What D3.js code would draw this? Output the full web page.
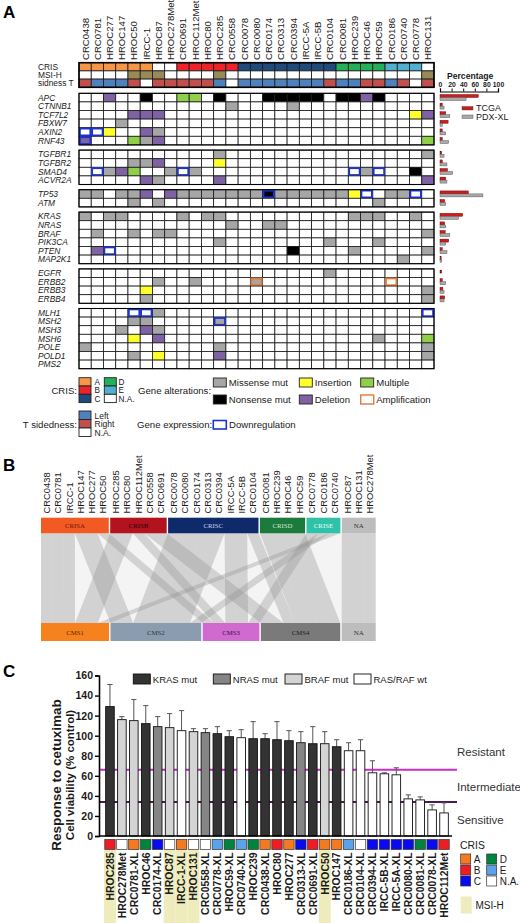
<!DOCTYPE html>
<html>
<head>
<meta charset="utf-8">
<script src="https://cdn.jsdelivr.net/npm/d3@7"></script>
<style>
body { margin: 0; background: #fff; }
svg { display: block; font-family: "Liberation Sans", Arial, sans-serif; }
</style>
</head>
<body>
<svg id="fig" width="520" height="923"></svg>
<script>
// ---------- panel A data ----------
const samplesA = ["CRC0438","CRC0781","HROC277","HROC147","HROC50","IRCC-1","HROC87","HROC278Met",
  "CRC0691","HROC112Met","HROC80","HROC285","CRC0558","CRC0078","CRC0080","CRC0174","CRC0313",
  "CRC0394","IRCC-5A","IRCC-5B","CRC0104","CRC0081","HROC239","HROC46","HROC59","CRC0186",
  "CRC0740","CRC0778","HROC131"];
const crisA = ["A","A","A","A","A","A","N","N","B","B","B","B","B","C","C","C","C","C","C","C","C",
  "D","D","D","D","E","E","E","N"];
const msiA = [0,0,0,0,1,1,1,0,0,0,0,1,0,0,0,0,0,0,0,0,0,0,0,0,0,0,0,0,1];
const sideA = ["R","L","L","L","R","N","R","R","R","R","R","L","N","L","L","L","L","L","L","L","R",
  "L","L","R","R","L","R","N","R"];

const geneGroups = [
  ["APC","CTNNB1","TCF7L2","FBXW7","AXIN2","RNF43"],
  ["TGFBR1","TGFBR2","SMAD4","ACVR2A"],
  ["TP53","ATM"],
  ["KRAS","NRAS","BRAF","PIK3CA","PTEN","MAP2K1"],
  ["EGFR","ERBB2","ERBB3","ERBB4"],
  ["MLH1","MSH2","MSH3","MSH6","POLE","POLD1","PMS2"]
];
// column index + code: M missense, N nonsense, I insertion, D deletion, X multiple,
// A amplification (outline), R downregulation (outline)
const alterations = {
  APC: "2D 5N 8X 9X 11N 15N 16N 17N 18N 19N 21N 22N 23D 24N",
  CTNNB1: "12M 17M",
  TCF7L2: "4D 5D 6D 27I 28D",
  FBXW7: "3M",
  AXIN2: "0R 1R 2I 5D 6M",
  RNF43: "0DR 4X 5M 6D 28X",
  TGFBR1: "11M 28M",
  TGFBR2: "4M 5M 6D 11I",
  SMAD4: "1R 2M 3D 4X 7M 8R 9M 22R 23M 24R 27N",
  ACVR2A: "5D 6M 11D 28D",
  TP53: "0M 1M 3M 4M 5D 7D 8M 9M 10M 11M 12M 13M 14M 15NR 16M 17M 18M 19M 20M 21M 22I 23R 25M 26M 27R",
  ATM: "4M 6M 24M",
  KRAS: "0M 2M 3M 8M 10M 11M 22M 23M 24M 27M",
  NRAS: "12M 15M 16M",
  BRAF: "1M 4M 6M 7M 28M",
  PIK3CA: "11M 20M 24M",
  PTEN: "1D 2R 17N 22M 28M",
  MAP2K1: "26M",
  EGFR: "20M",
  ERBB2: "6M 9M 14MA 25A",
  ERBB3: "5I 28M",
  ERBB4: "5M 28M",
  MLH1: "4R 5R 6M 28R",
  MSH2: "4M 5M 11MR",
  MSH3: "3M 5D 6M",
  MSH6: "4I 6D 24M 28X",
  POLE: "0M 11M 28M",
  POLD1: "4M 6I 11D 28M",
  PMS2: ""
};
const pctGenes = ["APC","CTNNB1","TCF7L2","FBXW7","AXIN2","RNF43","TGFBR1","TGFBR2","SMAD4","ACVR2A",
  "TP53","ATM","KRAS","NRAS","BRAF","PIK3CA","PTEN","MAP2K1","EGFR","ERBB2","ERBB3","ERBB4"];
const pctTCGA = [66,4,10,14,4,4,3,4,13,10,49,8,39,8,9,15,4,2,3,4,5,8];
const pctPDX  = [45,7,17,4,10,15,7,12,22,12,74,10,32,10,17,10,12,3,0,10,7,7];

// ---------- panel B data ----------
const crisGroupsB = [
  ["CRISA", ["CRC0438","CRC0781","IRCC-1","HROC147","HROC277","HROC50"]],
  ["CRISB", ["HROC285","HROC80","HROC112Met","CRC0558","CRC0691"]],
  ["CRISC", ["CRC0078","CRC0080","CRC0174","CRC0313","CRC0394","IRCC-5A","IRCC-5B","CRC0104"]],
  ["CRISD", ["CRC0081","HROC239","HROC46","HROC59"]],
  ["CRISE", ["CRC0778","CRC0186","CRC0740"]],
  ["NA",    ["HROC87","HROC131","HROC278Met"]]
];
const cmsGroupsB = [
  ["CMS1", ["CRC0438","CRC0781","IRCC-1","HROC285","HROC80","CRC0740"]],
  ["CMS2", ["HROC147","HROC277","CRC0078","CRC0080","CRC0174","CRC0313","CRC0394","CRC0186"]],
  ["CMS3", ["HROC50","HROC112Met","IRCC-5A","IRCC-5B","CRC0778"]],
  ["CMS4", ["CRC0558","CRC0691","CRC0104","CRC0081","HROC239","HROC46","HROC59"]],
  ["NA",   ["HROC87","HROC131","HROC278Met"]]
];

// ---------- panel C data ----------
const samplesC = ["HROC285","HROC278Met","CRC0781-XL","HROC46","CRC0174-XL","HROC87","IRCC-1-XL",
  "HROC131","CRC0558-XL","CRC0778-XL","HROC59-XL","CRC0740-XL","HROC239","CRC0438-XL","HROC80",
  "HROC277","CRC0313-XL","CRC0691-XL","HROC50","HROC147","CRC0186-XL","CRC0104-XL","CRC0394-XL",
  "IRCC-5B-XL","IRCC-5A-XL","CRC0080-XL","CRC0081-XL","CRC0078-XL","HROC112Met"];
const viability = [129,116,115,112,109,108,105,104,103,102,99,98,97,97,96,95,93,92,92,89,85,85,63,62,61,37,36,26,23];
const viabilityErr = [22,3,21,18,10,14,20,3,4,7,6,8,17,5,18,10,11,17,12,7,8,11,12,1,7,4,3,5,10];
const mutC = ["K","B","B","K","N","B","W","B","N","K","K","W","K","K","K","K","N","K","B","K","W","W","W","W","W","W","W","W","W"];
const crisC = ["B","N","A","D","C","N","A","N","N","E","D","E","D","A","B","A","C","B","A","A","E","N","C","C","C","C","D","C","B"];
const msiC = [1,0,0,0,0,1,1,1,0,0,0,0,0,0,0,0,0,0,1,0,0,0,0,0,0,0,0,0,0];
const yTicksC = [0,20,40,60,80,100,120,140,160];
const thresholds = [66, 34];

// ---------- drawing ----------
const svg = d3.select("#fig");
const ink = "#1a1a1a";

function panelLetter(t, x, y) {
  svg.append("text").attr("x", x).attr("y", y).attr("font-size", 17).attr("font-weight", "bold").text(t);
}
panelLetter("A", 3, 18);
panelLetter("B", 3, 471);
panelLetter("C", 3, 677);

// ===== Panel A =====
const gA = svg.append("g");
const xA = d3.scaleBand().domain(samplesA).range([79, 434]);
const crisFillA = {A: "#f79646", B: "#ee2229", C: "#1f4a7c", D: "#22b15a", E: "#4fb0d0", N: "#fff"};
const sideFill = {L: "#4f81bd", R: "#c0504d", N: "#fff"};
const altFill = {M: "#a6a6a6", N: "#000", I: "#ffff2a", D: "#7e62a3", X: "#8fcf4a"};
const outlineCol = {R: "#1c34d4", A: "#e2783a"};
const rowFont = 8.4;

gA.selectAll("text.col").data(samplesA).join("text")
  .attr("class", "col")
  .attr("transform", d => `translate(${xA(d) + xA.bandwidth() / 2 + 3.4},60) rotate(-90)`)
  .attr("font-size", 9.6).attr("fill", ink).text(d => d);

const headTop = 62.7, headH = 8.2;
const headRows = [
  ["CRIS", crisA.map(c => crisFillA[c])],
  ["MSI-H", msiA.map(m => m ? "#978a58" : "#fff")],
  ["sidness T", sideA.map(s => sideFill[s])]
];
headRows.forEach(([lab, fills], r) => {
  const y = headTop + r * headH;
  gA.append("text").attr("x", 38).attr("y", y + headH / 2 + 3).attr("font-size", rowFont).attr("fill", ink).text(lab);
  gA.selectAll(null).data(samplesA).join("rect")
    .attr("x", d => xA(d)).attr("y", y).attr("width", xA.bandwidth()).attr("height", headH)
    .attr("fill", (d, i) => fills[i]).attr("stroke", ink).attr("stroke-width", 0.8);
});
gA.append("rect").attr("x", 79).attr("y", headTop).attr("width", 355).attr("height", headH * 3)
  .attr("fill", "none").attr("stroke", "#000").attr("stroke-width", 1.6);

const rowH = 8.6, groupGap = 5.2;
const xPct = d3.scaleLinear().domain([0, 100]).range([440, 498]);
let yCur = 93.3;
const rowY = {};
geneGroups.forEach(genes => {
  genes.forEach((g, r) => { rowY[g] = yCur + r * rowH; });
  yCur += genes.length * rowH + groupGap;
});

Object.keys(rowY).forEach(gene => {
  const y = rowY[gene];
  gA.append("text").attr("x", 38).attr("y", y + rowH / 2 + 3)
    .attr("font-size", rowFont).attr("font-style", "italic").attr("fill", ink).text(gene);
  const codes = {};
  alterations[gene].split(" ").filter(s => s).forEach(s => {
    const m = s.match(/^(\d+)([A-Z]+)$/);
    codes[+m[1]] = m[2];
  });
  gA.selectAll(null).data(samplesA).join("rect")
    .attr("x", d => xA(d)).attr("y", y).attr("width", xA.bandwidth()).attr("height", rowH)
    .attr("fill", (d, i) => {
      const c = codes[i];
      if (!c) return "#fff";
      const f = c.split("").find(k => altFill[k]);
      return f ? altFill[f] : "#fff";
    })
    .attr("stroke", ink).attr("stroke-width", 0.8);
  Object.entries(codes).forEach(([i, c]) => {
    c.split("").filter(k => outlineCol[k]).forEach(k => {
      gA.append("rect").attr("x", xA(samplesA[+i]) + 0.9).attr("y", y + 0.9)
        .attr("width", xA.bandwidth() - 1.8).attr("height", rowH - 1.8)
        .attr("fill", "none").attr("stroke", outlineCol[k]).attr("stroke-width", 1.8);
    });
  });
});
// group outlines
yCur = 93.3;
geneGroups.forEach(genes => {
  gA.append("rect").attr("x", 79).attr("y", yCur).attr("width", 355).attr("height", genes.length * rowH)
    .attr("fill", "none").attr("stroke", "#000").attr("stroke-width", 1.1);
  yCur += genes.length * rowH + groupGap;
});

// percentage bars
pctGenes.forEach((g, i) => {
  const y = rowY[g];
  if (pctTCGA[i] > 0)
    gA.append("rect").attr("x", xPct(0)).attr("y", y + 1.2).attr("width", xPct(pctTCGA[i]) - xPct(0)).attr("height", 3)
      .attr("fill", "#d11a1a").attr("stroke", "#5a0000").attr("stroke-width", 0.4);
  if (pctPDX[i] > 0)
    gA.append("rect").attr("x", xPct(0)).attr("y", y + 4.2).attr("width", xPct(pctPDX[i]) - xPct(0)).attr("height", 3)
      .attr("fill", "#a9a9a9").attr("stroke", "#444").attr("stroke-width", 0.4);
});
const pctAxis = gA.append("g").attr("transform", "translate(0,91.5)")
  .call(d3.axisTop(xPct).tickValues([0, 20, 40, 60, 80, 100]).tickSize(3).tickPadding(1.2));
pctAxis.select(".domain").attr("stroke", "#000").attr("stroke-width", 1.2);
pctAxis.selectAll(".tick line").attr("stroke", "#000").attr("stroke-width", 1);
pctAxis.selectAll("text").attr("font-size", 6.8).attr("font-weight", "bold").attr("fill", ink)
  .attr("font-family", '"Liberation Sans", Arial, sans-serif');
gA.append("text").attr("x", 447).attr("y", 79).attr("font-size", 8.6).attr("font-weight", "bold").attr("fill", ink).text("Percentage");
[["TCGA", "#d11a1a", 106.5], ["PDX-XL", "#a9a9a9", 115]].forEach(([t, c, y]) => {
  gA.append("rect").attr("x", 462).attr("y", y).attr("width", 11).attr("height", 3.5).attr("fill", c).attr("stroke", "#444").attr("stroke-width", 0.4);
  gA.append("text").attr("x", 476).attr("y", y + 4.5).attr("font-size", 9).attr("fill", ink).text(t);
});

// legend A
const legFont = 9.6, legSmall = 8.2;
function legBox(x, y, w, h, fill, stroke, sw) {
  gA.append("rect").attr("x", x).attr("y", y).attr("width", w).attr("height", h)
    .attr("fill", fill).attr("stroke", stroke || "#222").attr("stroke-width", sw || 0.9);
}
function legText(x, y, t, anchor, size) {
  gA.append("text").attr("x", x).attr("y", y).attr("font-size", size || legFont).attr("fill", ink)
    .attr("text-anchor", anchor || "start").text(t);
}
legText(77, 393.5, "CRIS:", "end");
[["A", "A", 0], ["B", "B", 1], ["C", "C", 2]].forEach(([k, t, r]) => {
  legBox(79, 377.7 + r * 8.3, 12, 8.3, crisFillA[k]);
  legText(94.5, 377.7 + r * 8.3 + 7.3, t, "start", legSmall);
});
[["D", "D", 0], ["E", "E", 1], ["N", "N.A.", 2]].forEach(([k, t, r]) => {
  legBox(104.3, 377.7 + r * 8.3, 12, 8.3, crisFillA[k]);
  legText(118.5, 377.7 + r * 8.3 + 7.3, t, "start", legSmall);
});
legText(138, 393.5, "Gene alterations:");
const altLeg = [
  ["Missense mut", "#a6a6a6", null, 213.3, 378],
  ["Insertion", "#ffff2a", null, 299.3, 378],
  ["Multiple", "#8fcf4a", null, 360.7, 378],
  ["Nonsense mut", "#000", null, 213.3, 395],
  ["Deletion", "#7e62a3", null, 299.3, 395],
  ["Amplification", "#fff", "#e2783a", 360.7, 395]
];
altLeg.forEach(([t, f, s, x, y]) => {
  legBox(x, y, 13, 9, f, s || "#222", s ? 1.4 : 0.9);
  legText(x + 15.5, y + 8.3, t);
});
legText(77, 427.5, "T sidedness:", "end");
[["L", "Left"], ["R", "Right"], ["N", "N.A."]].forEach(([k, t], r) => {
  legBox(79, 411 + r * 8.5, 12, 8.5, sideFill[k]);
  legText(94.5, 411 + r * 8.5 + 7.6, t, "start", legSmall + 0.3);
});
legText(137, 427.5, "Gene expression:");
legBox(213.3, 420.5, 13, 8.5, "#fff", "#1c34d4", 1.6);
legText(229, 428.3, "Downregulation");

// ===== Panel B =====
const gB = svg.append("g");
const boxFillB = {CRISA: "#f15a22", CRISB: "#b3121f", CRISC: "#0e2a6b", CRISD: "#1c7a3d", CRISE: "#30c2a8", NA: "#bdbdbd",
  CMS1: "#f5821f", CMS2: "#8b9cb1", CMS3: "#d06ad0", CMS4: "#7a7a7a"};
const boxTextB = {CRISA: "#7a1208", CRISB: "#2a0508", CRISC: "#c9d3ef", CRISD: "#cfe9d2", CRISE: "#e6fff9", NA: "#333",
  CMS1: "#5a2a00", CMS2: "#2e3440", CMS3: "#3a103a", CMS4: "#1e1e1e"};
// slot index scale (gap units between groups)
const gapUnits = 0.125;
function layout(groups) {
  const pos = {}, boxes = [];
  let k = 0;
  groups.forEach(([name, list]) => {
    boxes.push({name, k0: k, k1: k + list.length});
    list.forEach((s, i) => { pos[s] = k + i; });
    k += list.length + gapUnits;
  });
  return {pos, boxes, total: k - gapUnits};
}
const topL = layout(crisGroupsB), botL = layout(cmsGroupsB);
const xTop = d3.scaleLinear().domain([0, topL.total]).range([41, 375.7]);
const xBot = d3.scaleLinear().domain([0, botL.total]).range([41, 375.7]);
const topY0 = 517.7, topY1 = 533.3, botY0 = 623, botY1 = 641;

gB.append("rect").attr("x", 41).attr("y", topY1).attr("width", 334.7).attr("height", botY0 - topY1).attr("fill", "#f4f4f4");
crisGroupsB.flatMap(g => g[1]).forEach(s => {
  const a = xTop(topL.pos[s]), b = xTop(topL.pos[s] + 1);
  const c = xBot(botL.pos[s]), d = xBot(botL.pos[s] + 1);
  gB.append("path").attr("d", `M${a},${topY1}L${b},${topY1}L${d},${botY0}L${c},${botY0}Z`)
    .attr("fill", "#8f8f8f").attr("fill-opacity", 0.33);
});
function drawBoxes(L, xs, y0, y1) {
  L.boxes.forEach(bx => {
    gB.append("rect").attr("x", xs(bx.k0)).attr("y", y0).attr("width", xs(bx.k1) - xs(bx.k0)).attr("height", y1 - y0)
      .attr("fill", boxFillB[bx.name]);
    gB.append("text").attr("x", (xs(bx.k0) + xs(bx.k1)) / 2).attr("y", (y0 + y1) / 2 + 2.5)
      .attr("text-anchor", "middle").attr("font-size", 6.8).attr("font-family", '"Liberation Serif", serif')
      .attr("fill", boxTextB[bx.name]).text(bx.name);
  });
}
drawBoxes(topL, xTop, topY0, topY1);
drawBoxes(botL, xBot, botY0, botY1);
gB.selectAll("text.lab").data(crisGroupsB.flatMap(g => g[1])).join("text")
  .attr("class", "lab")
  .attr("transform", d => `translate(${xTop(topL.pos[d] + 0.5) + 3.3},513.5) rotate(-90)`)
  .attr("font-size", 9.4).attr("fill", ink).text(d => d);

// ===== Panel C =====
const gC = svg.append("g");
const xC = d3.scaleBand().domain(samplesC).range([104, 450]).paddingInner(0.28).paddingOuter(0.14);
const yC = d3.scaleLinear().domain([0, 160]).range([836, 675.5]);
const mutFill = {K: "#333333", N: "#858585", B: "#d4d4d4", W: "#ffffff"};
const crisFillC = {A: "#f47a20", B: "#ee1c24", C: "#0a0af0", D: "#00843d", E: "#5aa2ea", N: "#fff"};

// MSI-H highlight
samplesC.forEach((s, i) => {
  if (!msiC[i]) return;
  gC.append("rect").attr("x", xC(s) - xC.step() * xC.paddingInner() / 2).attr("y", 850)
    .attr("width", xC.step()).attr("height", 73).attr("fill", "#eeecbc");
});
// thresholds
gC.append("line").attr("x1", 99).attr("x2", 457).attr("y1", yC(thresholds[0])).attr("y2", yC(thresholds[0]))
  .attr("stroke", "#c72dc7").attr("stroke-width", 2);
gC.append("line").attr("x1", 99).attr("x2", 457).attr("y1", yC(thresholds[1])).attr("y2", yC(thresholds[1]))
  .attr("stroke", "#4d1a52").attr("stroke-width", 2);
// error bars
samplesC.forEach((s, i) => {
  const cx = xC(s) + xC.bandwidth() / 2;
  const yTop = yC(viability[i] + viabilityErr[i]);
  gC.append("line").attr("x1", cx).attr("x2", cx).attr("y1", yC(viability[i])).attr("y2", yTop).attr("stroke", "#555").attr("stroke-width", 1);
  gC.append("line").attr("x1", cx - 2.6).attr("x2", cx + 2.6).attr("y1", yTop).attr("y2", yTop).attr("stroke", "#555").attr("stroke-width", 1);
});
gC.selectAll("rect.bar").data(samplesC).join("rect")
  .attr("class", "bar")
  .attr("x", d => xC(d)).attr("width", xC.bandwidth())
  .attr("y", (d, i) => yC(viability[i])).attr("height", (d, i) => yC(0) - yC(viability[i]))
  .attr("fill", (d, i) => mutFill[mutC[i]]).attr("stroke", "#111").attr("stroke-width", 0.9);

const yAx = gC.append("g").attr("transform", "translate(99,0)")
  .call(d3.axisLeft(yC).tickValues(yTicksC).tickSize(4).tickPadding(2));
yAx.select(".domain").attr("stroke", "#000").attr("stroke-width", 1.6);
yAx.selectAll(".tick line").attr("stroke", "#000").attr("stroke-width", 1.4);
yAx.selectAll("text").attr("font-size", 10.5).attr("font-weight", "bold").attr("fill", ink)
  .attr("font-family", '"Liberation Sans", Arial, sans-serif');
gC.append("line").attr("x1", 99).attr("x2", 452).attr("y1", yC(0)).attr("y2", yC(0)).attr("stroke", "#000").attr("stroke-width", 1.6);

gC.append("text").attr("transform", "translate(61,775) rotate(-90)").attr("text-anchor", "middle")
  .attr("font-size", 13.5).attr("font-weight", "bold").attr("fill", ink).text("Response to cetuximab");
gC.append("text").attr("transform", "translate(74,775) rotate(-90)").attr("text-anchor", "middle")
  .attr("font-size", 11.5).attr("font-weight", "bold").attr("fill", ink).text("Cell viability (% control)");

// CRIS squares under the axis
gC.selectAll("rect.cris").data(samplesC).join("rect")
  .attr("class", "cris")
  .attr("x", d => xC(d) + xC.bandwidth() / 2 - 5.2).attr("y", 839.5).attr("width", 10.4).attr("height", 10)
  .attr("fill", (d, i) => crisFillC[crisC[i]]).attr("stroke", "#333").attr("stroke-width", 0.7);
gC.selectAll("text.xl").data(samplesC).join("text")
  .attr("class", "xl")
  .attr("transform", d => `translate(${xC(d) + xC.bandwidth() / 2 + 3.8},852.5) rotate(-90)`)
  .attr("text-anchor", "end").attr("font-size", 10.4).attr("font-weight", "bold").attr("fill", ink).text(d => d);

// mutation legend
[["KRAS mut", "K", 133.3], ["NRAS mut", "N", 213.3], ["BRAF mut", "B", 285], ["RAS/RAF wt", "W", 354]].forEach(([t, k, x]) => {
  gC.append("rect").attr("x", x).attr("y", 674).attr("width", 17).attr("height", 10)
    .attr("fill", mutFill[k]).attr("stroke", "#111").attr("stroke-width", 0.9);
  gC.append("text").attr("x", x + 19.5).attr("y", 683).attr("font-size", 9.5).attr("fill", ink).text(t);
});
[["Resistant", 755.5], ["Intermediate", 790.5], ["Sensitive", 824]].forEach(([t, y]) => {
  gC.append("text").attr("x", 457).attr("y", y).attr("font-size", 11.5).attr("fill", "#333").text(t);
});
// CRIS legend C
gC.append("text").attr("x", 460).attr("y", 849).attr("font-size", 10.4).attr("fill", ink).text("CRIS");
[["A", "A", 0, 0], ["B", "B", 0, 1], ["C", "C", 0, 2], ["D", "D", 1, 0], ["E", "E", 1, 1], ["N", "N.A.", 1, 2]].forEach(([k, t, c, r]) => {
  const x = c ? 486.7 : 460.7, y = 854 + r * 11;
  gC.append("rect").attr("x", x).attr("y", y).attr("width", 10).attr("height", 10)
    .attr("fill", crisFillC[k]).attr("stroke", "#333").attr("stroke-width", 0.7);
  gC.append("text").attr("x", x + 13).attr("y", y + 9).attr("font-size", 10).attr("fill", ink).text(t);
});
gC.append("rect").attr("x", 460.7).attr("y", 896.5).attr("width", 11).attr("height", 17).attr("fill", "#eeecbc");
gC.append("text").attr("x", 475.5).attr("y", 909).attr("font-size", 10).attr("fill", ink).text("MSI-H");
</script>
</body>
</html>
